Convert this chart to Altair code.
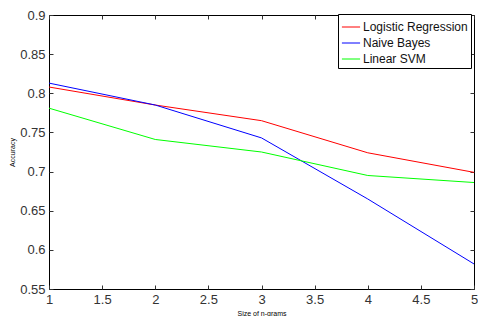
import altair as alt
import pandas as pd

ngram = [1, 2, 3, 4, 5]
logreg = [0.808, 0.785, 0.765, 0.724, 0.699]
naive = [0.813, 0.785, 0.743, 0.665, 0.582]
svm = [0.781, 0.741, 0.725, 0.695, 0.686]
series = ["Logistic Regression", "Naive Bayes", "Linear SVM"]
colors = ["#ff0000", "#0000ff", "#00ff00"]
xticks = [1, 1.5, 2, 2.5, 3, 3.5, 4, 4.5, 5]
yticks = [0.55, 0.6, 0.65, 0.7, 0.75, 0.8, 0.85, 0.9]

rows = []
for name, vals in zip(series, [logreg, naive, svm]):
    for x, y in zip(ngram, vals):
        rows.append({"n": x, "acc": y, "model": name})
df = pd.DataFrame(rows)

FONT = "Liberation Sans"

xs = alt.Scale(domain=[1, 5], nice=False, zero=False)
ys = alt.Scale(domain=[0.55, 0.9], nice=False, zero=False)

lines = alt.Chart(df).mark_line(strokeWidth=1, clip=True).encode(
    x=alt.X("n:Q", scale=xs,
            axis=alt.Axis(values=xticks, offset=-4, tickSize=4, domain=False, grid=False,
                          labelPadding=4, labelFontSize=13, labelColor="#333333",
                          labelFont=FONT, title="Size of n-grams", titleFontSize=7,
                          titleFont=FONT, titleFontWeight="normal", titlePadding=3,
                          format="~g", labelFlush=False, tickColor="#333333")),
    y=alt.Y("acc:Q", scale=ys,
            axis=alt.Axis(values=yticks, offset=-4, tickSize=4, domain=False, grid=False,
                          labelPadding=4, labelFontSize=13, labelColor="#333333",
                          labelFont=FONT, title="Accuracy", titleFontSize=7,
                          titleFont=FONT, titleFontWeight="normal", titlePadding=4,
                          format=".2~f", tickColor="#333333")),
    color=alt.Color("model:N", sort=series,
                    scale=alt.Scale(domain=series, range=colors),
                    legend=alt.Legend(title=None, orient="none", legendX=289, legendY=-1,
                                      symbolType="stroke", symbolSize=330,
                                      symbolStrokeWidth=1,
                                      labelFontSize=12, labelFont=FONT,
                                      labelColor="#111111", labelOffset=2,
                                      strokeColor="#000000", fillColor="#ffffff",
                                      padding=3, rowPadding=0)),
)

frame = alt.Chart(df).mark_line(opacity=0).encode(
    x=alt.X("n:Q", scale=xs,
            axis=alt.Axis(orient="top", values=xticks, offset=-4, tickSize=4, domain=False,
                          grid=False, labels=False, title=None, tickColor="#333333")),
    y=alt.Y("acc:Q", scale=ys,
            axis=alt.Axis(orient="right", values=yticks, offset=-4, tickSize=4, domain=False,
                          grid=False, labels=False, title=None, tickColor="#333333")),
    detail="model:N",
)

chart = alt.layer(lines, frame).resolve_scale(x="independent", y="independent").properties(
    width=425, height=274,
    autosize=alt.AutoSizeParams(type="none"),
    padding={"left": 41, "top": 7, "right": 4, "bottom": 27},
).configure_view(stroke="#000000", strokeWidth=1)

chart.save("out.html", embed_options={"renderer": "svg", "actions": False})
